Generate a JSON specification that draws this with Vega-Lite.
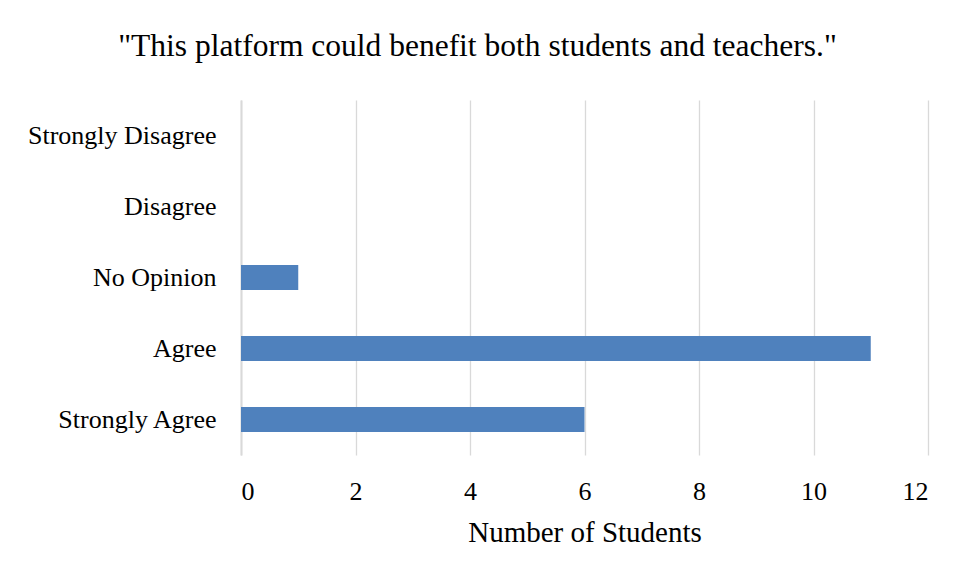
{
  "$schema": "https://vega.github.io/schema/vega-lite/v6.json",
  "autosize": "none",
  "width": 687,
  "height": 355,
  "padding": {"left": 241, "top": 100, "right": 29, "bottom": 122},
  "background": "white",
  "title": {
    "text": "\"This platform could benefit both students and teachers.\"",
    "font": "Liberation Serif",
    "fontSize": 31.5,
    "fontWeight": "normal",
    "color": "#000000",
    "anchor": "middle",
    "dx": -107,
    "offset": 38
  },
  "data": {
    "values": [
      {"response": "Strongly Disagree", "students": 0},
      {"response": "Disagree", "students": 0},
      {"response": "No Opinion", "students": 1},
      {"response": "Agree", "students": 11},
      {"response": "Strongly Agree", "students": 6}
    ]
  },
  "mark": {"type": "bar", "color": "#4f81bd"},
  "encoding": {
    "y": {
      "field": "response",
      "type": "nominal",
      "sort": ["Strongly Disagree", "Disagree", "No Opinion", "Agree", "Strongly Agree"],
      "scale": {"paddingInner": 0.65, "paddingOuter": 0.325},
      "axis": {
        "title": null,
        "ticks": false,
        "domain": true,
        "domainColor": "#d9d9d9",
        "domainWidth": 2,
        "labelPadding": 25,
        "labelLimit": 400,
        "labelFont": "Liberation Serif",
        "labelFontSize": 26,
        "labelColor": "#000000"
      }
    },
    "x": {
      "field": "students",
      "type": "quantitative",
      "scale": {"domain": [0, 12], "nice": false},
      "axis": {
        "title": "Number of Students",
        "values": [0, 2, 4, 6, 8, 10, 12],
        "ticks": false,
        "domain": false,
        "grid": true,
        "gridColor": "#d9d9d9",
        "gridWidth": 1.3,
        "labelPadding": 23,
        "labelFont": "Liberation Serif",
        "labelFontSize": 26,
        "labelColor": "#000000",
        "titleFont": "Liberation Serif",
        "titleFontSize": 29,
        "titleFontWeight": "normal",
        "titleColor": "#000000",
        "titlePadding": 14
      }
    }
  },
  "config": {"view": {"stroke": null}}
}
